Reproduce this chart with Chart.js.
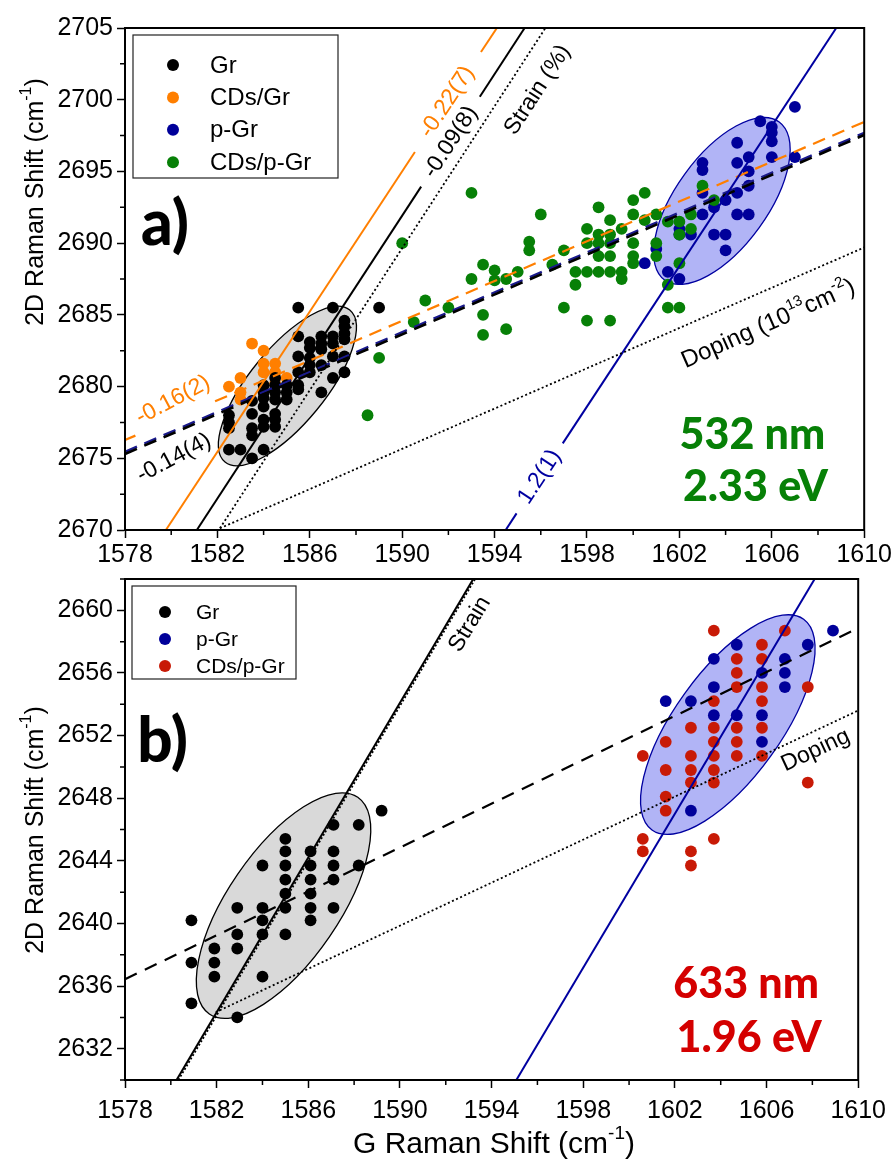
<!DOCTYPE html>
<html>
<head>
<meta charset="utf-8">
<script src="https://cdn.jsdelivr.net/npm/chart.js@4.4.0/dist/chart.umd.min.js"></script>
<style>
  html, body { margin: 0; padding: 0; background: #fff; }
  #wrap { position: relative; width: 894px; height: 1163px; }
  .panel { position: absolute; left: 0; width: 894px; }
  #panelA { top: 0; height: 580px; }
  #panelB { top: 560px; height: 603px; }
</style>
</head>
<body>
<div id="wrap">
  <div class="panel" id="panelA"><canvas id="chartA"></canvas></div>
  <div class="panel" id="panelB"><canvas id="chartB"></canvas></div>
</div>
<script>
// Raman 2D vs G scatter, two excitation wavelengths

const FONT = '"Liberation Sans", Arial, Helvetica, sans-serif';
const HEAVY = 'Lato, "DejaVu Sans", sans-serif';

// ---- axes ----
const xTicks = [1578, 1582, 1586, 1590, 1594, 1598, 1602, 1606, 1610];
const xMinor = [1580, 1584, 1588, 1592, 1596, 1600, 1604, 1608];
const yTicksA = [2670, 2675, 2680, 2685, 2690, 2695, 2700, 2705];
const yMinorA = [2672.5, 2677.5, 2682.5, 2687.5, 2692.5, 2697.5, 2702.5];
const yTicksB = [2632, 2636, 2640, 2644, 2648, 2652, 2656, 2660];
const yMinorB = [2630, 2634, 2638, 2642, 2646, 2650, 2654, 2658, 2662];

// ---- panel a (532 nm) ----
const grA = [
  [1582.5, 2678.0], [1582.5, 2677.5], [1582.5, 2677.1], [1582.5, 2675.6],
  [1583.0, 2675.6],
  [1583.5, 2679.0], [1583.5, 2678.1], [1583.5, 2677.1], [1583.5, 2676.6], [1583.5, 2675.0],
  [1584.0, 2680.1], [1584.0, 2679.6], [1584.0, 2679.2], [1584.0, 2678.6], [1584.0, 2677.7], [1584.0, 2677.2], [1584.0, 2675.6],
  [1584.5, 2680.6], [1584.5, 2680.1], [1584.5, 2679.6], [1584.5, 2679.1], [1584.5, 2678.1], [1584.5, 2677.7], [1584.5, 2677.2],
  [1585.0, 2680.1], [1585.0, 2679.6], [1585.0, 2679.1],
  [1585.5, 2685.5], [1585.5, 2683.5], [1585.5, 2682.1], [1585.5, 2681.0], [1585.5, 2680.1], [1585.5, 2679.8],
  [1586.0, 2683.1], [1586.0, 2682.7], [1586.0, 2682.0], [1586.0, 2681.5], [1586.0, 2681.0],
  [1586.5, 2683.5], [1586.5, 2683.0], [1586.5, 2682.6], [1586.5, 2681.5], [1586.5, 2679.6],
  [1587.0, 2685.5], [1587.0, 2683.5], [1587.0, 2683.0], [1587.0, 2682.1], [1587.0, 2680.6],
  [1587.5, 2684.6], [1587.5, 2684.2], [1587.5, 2683.7], [1587.5, 2683.3], [1587.5, 2682.1], [1587.5, 2681.0],
  [1589.0, 2685.5]
];
const cdsGrA = [
  [1582.5, 2680.0], [1583.0, 2680.6], [1583.0, 2679.6], [1583.0, 2679.1], [1583.5, 2683.0],
  [1584.0, 2682.5], [1584.0, 2681.6], [1584.0, 2681.0], [1584.5, 2681.6], [1584.5, 2681.0],
  [1585.0, 2680.6], [1584.5, 2680.2]
];
const pGrA = [
  [1607.0, 2699.5], [1605.5, 2698.5], [1606.0, 2698.1], [1606.0, 2697.7], [1606.0, 2697.1],
  [1604.5, 2697.0], [1606.0, 2696.0], [1607.0, 2696.0], [1605.0, 2696.0], [1603.0, 2695.6],
  [1603.0, 2695.1], [1604.5, 2695.6], [1605.0, 2695.0], [1605.0, 2694.0], [1603.0, 2693.5],
  [1604.5, 2693.5], [1604.0, 2693.0], [1603.5, 2692.5], [1603.0, 2692.0], [1604.5, 2692.0],
  [1605.0, 2692.0], [1602.0, 2691.0], [1602.5, 2690.6], [1603.5, 2690.6], [1604.0, 2690.6],
  [1601.0, 2689.6], [1604.0, 2689.5], [1600.5, 2688.6], [1601.5, 2688.0], [1602.0, 2687.5],
  [1602.0, 2690.6]
];
const cdsPGrA = [
  [1588.5, 2678.0], [1589.0, 2682.0], [1590.0, 2690.0], [1590.5, 2684.5], [1591.0, 2686.0], [1592.0, 2685.5],
  [1593.0, 2693.5], [1593.0, 2687.5], [1593.5, 2688.5], [1593.5, 2685.0], [1593.5, 2683.6],
  [1594.0, 2688.1], [1594.0, 2687.4], [1594.5, 2687.5], [1594.5, 2684.0], [1595.0, 2688.0],
  [1595.5, 2690.1], [1595.5, 2689.5], [1596.0, 2692.0], [1596.5, 2688.5],
  [1597.0, 2689.5], [1597.0, 2685.5], [1597.5, 2688.0], [1597.5, 2687.1],
  [1598.0, 2691.0], [1598.0, 2690.0], [1598.0, 2688.0], [1598.0, 2684.6],
  [1598.5, 2692.5], [1598.5, 2690.6], [1598.5, 2690.0], [1598.5, 2689.1], [1598.5, 2688.0],
  [1599.0, 2691.6], [1599.0, 2690.6], [1599.0, 2690.0], [1599.0, 2689.1], [1599.0, 2688.0], [1599.0, 2684.6],
  [1599.5, 2691.0], [1599.5, 2688.0], [1599.5, 2687.5],
  [1600.0, 2693.0], [1600.0, 2692.0], [1600.0, 2690.0], [1600.0, 2689.1], [1600.0, 2688.6],
  [1600.5, 2693.5], [1600.5, 2691.6],
  [1601.0, 2692.0], [1601.0, 2690.0], [1601.0, 2689.1],
  [1601.5, 2691.5], [1601.5, 2687.1], [1601.5, 2685.5],
  [1602.0, 2691.5], [1602.0, 2690.6], [1602.0, 2688.6], [1602.0, 2685.5],
  [1602.5, 2692.0], [1602.5, 2691.0],
  [1603.0, 2694.0], [1603.5, 2693.0]
];

// fit lines of panel a, as segments (gaps leave room for the labels)
const strainCdsGrA = [[[1579.77, 2670], [1590.55, 2696.35]], [[1593.41, 2703.33], [1594.1, 2705]]];
const strainGrA = [[[1581.11, 2670], [1590.82, 2693.94]], [[1593.36, 2700.21], [1595.3, 2705]]];
const strainPGrA = [[[1594.48, 2670], [1594.95, 2671.16]], [[1596.95, 2676.04], [1608.79, 2705]]];
const strainRefA = [[[1582.11, 2670.12], [1596.2, 2705]]];
const dopingRefA = [[[1582.11, 2670.12], [1610, 2689.7]]];
const dopingCdsGrA = [[[1578, 2676.27], [1578.45, 2676.58]], [[1581.9, 2678.97], [1610, 2698.45]]];
const dopingGrA = [[[1578, 2675.3], [1610, 2697.54]]];
const dopingPGrA = [[[1578, 2675.45], [1610, 2697.69]]];

// ---- panel b (633 nm) ----
const grB = [
  [1580.9, 2640.2], [1580.9, 2637.5], [1580.9, 2634.9],
  [1581.9, 2638.4], [1581.9, 2637.5], [1581.9, 2636.6],
  [1582.9, 2641.0], [1582.9, 2639.3], [1582.9, 2638.4], [1582.9, 2634.0],
  [1584.0, 2643.7], [1584.0, 2641.0], [1584.0, 2640.2], [1584.0, 2639.3], [1584.0, 2636.6],
  [1585.0, 2645.4], [1585.0, 2644.6], [1585.0, 2643.7], [1585.0, 2642.8], [1585.0, 2641.9], [1585.0, 2641.0], [1585.0, 2639.3],
  [1586.1, 2644.6], [1586.1, 2643.7], [1586.1, 2642.8], [1586.1, 2641.9], [1586.1, 2641.0], [1586.1, 2640.2],
  [1587.1, 2646.3], [1587.1, 2644.6], [1587.1, 2643.7], [1587.1, 2642.8], [1587.1, 2641.0],
  [1588.2, 2646.3], [1588.2, 2643.7],
  [1589.2, 2647.2]
];
const pGrB = [
  [1608.9, 2658.7],
  [1604.7, 2657.8], [1607.8, 2657.8],
  [1603.7, 2656.9], [1606.8, 2656.9],
  [1605.8, 2656.0], [1606.8, 2656.0],
  [1603.7, 2655.1], [1606.8, 2655.1],
  [1601.6, 2654.2], [1602.7, 2654.2],
  [1603.7, 2653.3], [1604.7, 2653.3], [1605.8, 2653.3],
  [1605.8, 2651.6],
  [1602.7, 2647.2]
];
const cdsPGrB = [
  [1603.7, 2658.7], [1606.8, 2658.7],
  [1605.8, 2657.8],
  [1604.7, 2656.9], [1605.8, 2656.9],
  [1604.7, 2656.0],
  [1604.7, 2655.1], [1605.8, 2655.1], [1607.8, 2655.1],
  [1603.7, 2654.2], [1605.8, 2654.2],
  [1602.7, 2652.5], [1603.7, 2652.5], [1604.7, 2652.5], [1605.8, 2652.5],
  [1601.6, 2651.6], [1603.7, 2651.6], [1604.7, 2651.6],
  [1600.6, 2650.7], [1602.7, 2650.7], [1603.7, 2650.7], [1604.7, 2650.7], [1605.8, 2650.7],
  [1601.6, 2649.8], [1602.7, 2649.8], [1603.7, 2649.8],
  [1602.7, 2649.0], [1603.7, 2649.0], [1607.8, 2649.0],
  [1601.6, 2648.1],
  [1601.6, 2647.2],
  [1600.6, 2645.4], [1603.7, 2645.4],
  [1600.6, 2644.6], [1602.7, 2644.6],
  [1602.7, 2643.7]
];

const strainGrB = [[[1580.25, 2630], [1593.2, 2662]]];
const strainRefB = [[[1580.33, 2630], [1593.28, 2662]]];
const dopingRefB = [[[1581.96, 2634.33], [1610, 2653.6]]];
const strainPGrB = [[[1595.08, 2630], [1608.1, 2662]]];
const dopingGrB = [[[1578, 2636.44], [1610, 2658.86]]];

// colours
const BLACK = "#000000";
const ORANGE = "#ff7f00";
const NAVY = "#00009a";
const GREEN = "#078007";
const RED = "#c81a06";

const toXY = (arr) => arr.map((p) => ({ x: p[0], y: p[1] }));

function pointSet(label, data, color, order) {
  return {
    label: label,
    data: toXY(data),
    backgroundColor: color,
    borderWidth: 0,
    pointRadius: 5.9,
    pointBorderWidth: 0,
    order: order,
    legend: true,
  };
}

function lineSets(segments, color, width, dash) {
  return segments.map((seg) => ({
    data: toXY(seg),
    showLine: true,
    borderColor: color,
    borderWidth: width,
    borderDash: dash || [],
    pointRadius: 0,
    fill: false,
    order: 0,
  }));
}

// rich text with ^{superscript}
function parseRich(s) {
  const parts = [];
  const re = /\^\{([^}]*)\}/g;
  let last = 0;
  let m;
  while ((m = re.exec(s))) {
    if (m.index > last) parts.push([s.slice(last, m.index), false]);
    parts.push([m[1], true]);
    last = re.lastIndex;
  }
  if (last < s.length) parts.push([s.slice(last), false]);
  return parts;
}

function drawRich(ctx, s, x, y, o) {
  const size = o.size;
  const weight = o.weight || "normal";
  const fam = o.family || FONT;
  const parts = parseRich(s);
  const fontFor = (sup) => `${weight} ${sup ? Math.round(size * 0.62) : size}px ${fam}`;
  ctx.save();
  ctx.translate(x, y);
  ctx.rotate(((o.rot || 0) * Math.PI) / 180);
  ctx.fillStyle = o.color || BLACK;
  ctx.textBaseline = "middle";
  ctx.textAlign = "left";
  let total = 0;
  const widths = parts.map((p) => {
    ctx.font = fontFor(p[1]);
    const w = ctx.measureText(p[0]).width;
    total += w;
    return w;
  });
  let cx = -total / 2;
  parts.forEach((p, i) => {
    ctx.font = fontFor(p[1]);
    ctx.fillText(p[0], cx, p[1] ? -size * 0.36 : 0);
    cx += widths[i];
  });
  ctx.restore();
}

// ellipses behind the points (config kept in closure, not chart options)
function makeEllipsePlugin(items) {
  return {
    id: "ellipses",
    beforeDatasetsDraw(chart) {
      const { ctx, scales } = chart;
      items.forEach((e) => {
        const cx = scales.x.getPixelForValue(e.center[0]);
        const cy = scales.y.getPixelForValue(e.center[1]);
        const tx = scales.x.getPixelForValue(e.tip[0]);
        const ty = scales.y.getPixelForValue(e.tip[1]);
        const a = Math.hypot(tx - cx, ty - cy);
        ctx.save();
        ctx.beginPath();
        ctx.ellipse(cx, cy, a, a * e.ratio, Math.atan2(ty - cy, tx - cx), 0, Math.PI * 2);
        ctx.fillStyle = e.fill;
        ctx.fill();
        ctx.lineWidth = 1.3;
        ctx.strokeStyle = e.stroke;
        ctx.stroke();
        ctx.restore();
      });
    },
  };
}

// frame, minor ticks, texts and legend
function makeDecorPlugin(cfg) {
  return {
    id: "decor",
    afterDraw(chart) {
      const { ctx, chartArea: a, scales } = chart;
      ctx.save();
      ctx.strokeStyle = BLACK;
      ctx.lineWidth = 2;
      ctx.strokeRect(a.left, a.top, a.right - a.left, a.bottom - a.top);
      ctx.lineWidth = 1.5;
      ctx.beginPath();
      cfg.xMinor.forEach((v) => {
        const px = scales.x.getPixelForValue(v);
        ctx.moveTo(px, a.bottom);
        ctx.lineTo(px, a.bottom + 5);
      });
      cfg.yMinor.forEach((v) => {
        const py = scales.y.getPixelForValue(v);
        ctx.moveTo(a.left, py);
        ctx.lineTo(a.left - 5, py);
      });
      ctx.stroke();
      ctx.restore();

      cfg.texts.forEach((t) => {
        let x, y;
        if (t.at) {
          x = scales.x.getPixelForValue(t.at[0]);
          y = scales.y.getPixelForValue(t.at[1]);
        } else {
          x = t.px[0];
          y = t.px[1];
        }
        drawRich(ctx, t.text, x, y, t);
      });

      const lg = cfg.legend;
      ctx.save();
      ctx.fillStyle = "#fff";
      ctx.fillRect(lg.box[0], lg.box[1], lg.box[2], lg.box[3]);
      ctx.strokeStyle = "#222";
      ctx.lineWidth = 1.2;
      ctx.strokeRect(lg.box[0], lg.box[1], lg.box[2], lg.box[3]);
      const entries = chart.data.datasets.filter((d) => d.legend);
      entries.forEach((d, i) => {
        const yy = lg.firstRow + i * lg.rowStep;
        ctx.beginPath();
        ctx.arc(lg.markerX, yy, 6, 0, Math.PI * 2);
        ctx.fillStyle = d.backgroundColor;
        ctx.fill();
        ctx.fillStyle = BLACK;
        ctx.font = `${lg.fontSize}px ${FONT}`;
        ctx.textBaseline = "middle";
        ctx.textAlign = "left";
        ctx.fillText(d.label, lg.textX, yy + 1);
      });
      ctx.restore();
    },
  };
}

function axisOptions(ticks, min, max, isX, fixedSize, pad) {
  return {
    type: "linear",
    min: min,
    max: max,
    afterBuildTicks: (s) => {
      s.ticks = ticks.map((v) => ({ value: v }));
    },
    afterFit: (s) => {
      if (isX) s.height = fixedSize;
      else s.width = fixedSize;
    },
    grid: {
      display: true,
      drawOnChartArea: false,
      drawTicks: true,
      tickLength: 8,
      tickColor: BLACK,
      tickWidth: 1.5,
    },
    border: { display: true, color: BLACK, width: 2 },
    ticks: {
      color: BLACK,
      font: { family: FONT, size: 25 },
      padding: pad,
      autoSkip: false,
      maxRotation: 0,
      callback: (v) => String(v),
    },
  };
}

function baseOptions(yTicks, yMin, yMax, xAxisHeight, xPad, top) {
  return {
    responsive: true,
    maintainAspectRatio: false,
    animation: false,
    events: [],
    devicePixelRatio: 1,
    layout: { padding: { top: top, right: 29, left: 0, bottom: 0 } },
    scales: {
      x: axisOptions(xTicks, 1578, 1610, true, xAxisHeight, xPad),
      y: axisOptions(yTicks, yMin, yMax, false, 125, 4),
    },
    plugins: {
      legend: { display: false },
      tooltip: { enabled: false },
    },
  };
}

// ---- chart a ----
const datasetsA = [
  pointSet("Gr", grA, BLACK, 2),
  pointSet("CDs/Gr", cdsGrA, ORANGE, 3),
  pointSet("p-Gr", pGrA, NAVY, 5),
  pointSet("CDs/p-Gr", cdsPGrA, GREEN, 4),
]
  .concat(lineSets(strainRefA, BLACK, 1.8, [2, 2.5]))
  .concat(lineSets(dopingRefA, BLACK, 1.8, [2, 2.5]))
  .concat(lineSets(strainCdsGrA, ORANGE, 2))
  .concat(lineSets(strainGrA, BLACK, 2))
  .concat(lineSets(strainPGrA, "#0000a0", 2))
  .concat(lineSets(dopingCdsGrA, ORANGE, 2.2, [13, 8]))
  .concat(lineSets(dopingGrA, BLACK, 2.6, [13, 8]))
  .concat(lineSets(dopingPGrA, "#1a1a8c", 2.4, [13, 8]));

new Chart(document.getElementById("chartA"), {
  type: "scatter",
  data: { datasets: datasetsA },
  options: baseOptions(yTicksA, 2670, 2705, 50, 2, 28),
  plugins: [
    makeEllipsePlugin([
      { center: [1585.03, 2680.04], tip: [1587.73, 2685.34], ratio: 0.385, fill: "#d9d9d9", stroke: BLACK },
      { center: [1603.84, 2692.94], tip: [1606.32, 2698.45], ratio: 0.47, fill: "#b1b4f6", stroke: "#0000a0" },
    ]),
    makeDecorPlugin({
      xMinor: xMinor,
      yMinor: yMinorA,
      texts: [
        { text: "-0.22(7)", at: [1591.95, 2699.85], rot: -56.6, size: 23, color: ORANGE },
        { text: "-0.09(8)", at: [1592.1, 2697.05], rot: -56.8, size: 23 },
        { text: "Strain (%)", at: [1595.86, 2700.68], rot: -57, size: 23 },
        { text: "Doping (10^{13}cm^{-2})", at: [1605.85, 2684.35], rot: -24, size: 24 },
        { text: "-0.16(2)", at: [1580.08, 2679.06], rot: -28, size: 23, color: ORANGE },
        { text: "-0.14(4)", at: [1580.12, 2675.02], rot: -28, size: 23 },
        { text: "1.2(1)", at: [1595.95, 2673.7], rot: -56.6, size: 23, color: "#0000a0" },
        { text: "a)", at: [1579.73, 2691.26], size: 62, weight: 900, family: HEAVY },
        { text: "532 nm", at: [1605.16, 2676.62], size: 43, weight: 900, family: HEAVY, color: GREEN },
        { text: "2.33 eV", at: [1605.29, 2673.0], size: 43, weight: 900, family: HEAVY, color: GREEN },
        { text: "2D Raman Shift (cm^{-1})", px: [36, 202], rot: -90, size: 25 },
      ],
      legend: { box: [133, 35, 205, 143], firstRow: 65, rowStep: 32.4, markerX: 173, textX: 210, fontSize: 24 },
    }),
  ],
});

// ---- chart b ----
const datasetsB = [
  pointSet("Gr", grB, BLACK, 3),
  pointSet("p-Gr", pGrB, NAVY, 2),
  pointSet("CDs/p-Gr", cdsPGrB, RED, 1),
]
  .concat(lineSets(strainRefB, BLACK, 1.8, [2, 2]))
  .concat(lineSets(dopingRefB, BLACK, 1.8, [2, 2.5]))
  .concat(lineSets(strainGrB, BLACK, 2))
  .concat(lineSets(strainPGrB, "#0000a0", 2))
  .concat(lineSets(dopingGrB, BLACK, 2.2, [13, 9]));

new Chart(document.getElementById("chartB"), {
  type: "scatter",
  data: { datasets: datasetsB },
  options: baseOptions(yTicksB, 2630, 2662, 83, 8, 18),
  plugins: [
    makeEllipsePlugin([
      { center: [1584.92, 2641.14], tip: [1588.16, 2648.06], ratio: 0.423, fill: "#d9d9d9", stroke: BLACK },
      { center: [1604.31, 2652.7], tip: [1607.62, 2659.43], ratio: 0.41, fill: "#b1b4f6", stroke: "#0000a0" },
    ]),
    makeDecorPlugin({
      xMinor: xMinor,
      yMinor: yMinorB,
      texts: [
        { text: "b)", at: [1579.64, 2651.56], size: 62, weight: 900, family: HEAVY },
        { text: "Strain", at: [1593.05, 2659.11], rot: -59, size: 23 },
        { text: "Doping", at: [1608.14, 2651.05], rot: -25, size: 23 },
        { text: "633 nm", at: [1605.11, 2636.13], size: 43, weight: 900, family: HEAVY, color: "#d40000" },
        { text: "1.96 eV", at: [1605.24, 2632.7], size: 43, weight: 900, family: HEAVY, color: "#d40000" },
        { text: "2D Raman Shift (cm^{-1})", px: [36, 270], rot: -90, size: 25 },
        { text: "G Raman Shift (cm^{-1})", px: [494, 585], size: 30 },
      ],
      legend: { box: [132, 26, 164, 93], firstRow: 52, rowStep: 27, markerX: 165, textX: 196, fontSize: 21 },
    }),
  ],
});
</script>
</body>
</html>
